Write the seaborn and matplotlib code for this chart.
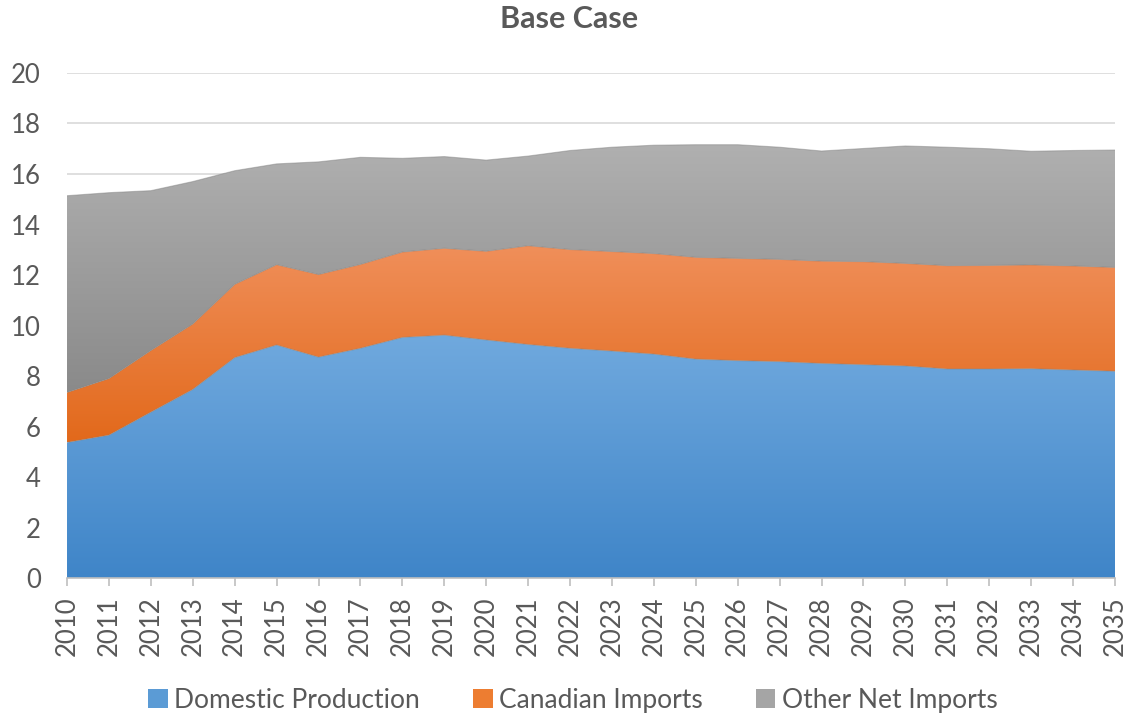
import numpy as np
import matplotlib
matplotlib.use("Agg")
import matplotlib.pyplot as plt
import seaborn as sns
from matplotlib.colors import LinearSegmentedColormap
from matplotlib.patches import Patch

# values
years = list(range(2010, 2036))
domestic = [5.37, 5.66, 6.57, 7.47, 8.73, 9.23, 8.75, 9.10, 9.53, 9.62,
            9.43, 9.25, 9.10, 8.99, 8.87, 8.67, 8.61, 8.57, 8.50, 8.45,
            8.40, 8.28, 8.28, 8.29, 8.24, 8.19]
canadian = [1.98, 2.24, 2.44, 2.59, 2.90, 3.18, 3.27, 3.32, 3.38, 3.44,
            3.51, 3.91, 3.91, 3.94, 3.98, 4.03, 4.05, 4.05, 4.05, 4.08,
            4.06, 4.09, 4.10, 4.11, 4.12, 4.11]
other = [7.79, 7.36, 6.33, 5.64, 4.50, 3.99, 4.46, 4.24, 3.71, 3.63,
         3.61, 3.55, 3.92, 4.13, 4.29, 4.46, 4.50, 4.44, 4.36, 4.48,
         4.65, 4.69, 4.62, 4.50, 4.57, 4.65]
labels = ["Domestic Production", "Canadian Imports", "Other Net Imports"]

# (top colour, bottom colour) for the Excel-like gradient fills
grads = [("#70a9de", "#3f85c8"), ("#f08f5a", "#e2691b"), ("#b0b0b0", "#8a8a8a")]
mids = ["#5b9bd5", "#ed7d31", "#a5a5a5"]

sns.set_theme(style="white")
plt.rcParams["font.family"] = ["Lato", "DejaVu Sans"]
txt = "#595959"

fig = plt.figure(figsize=(11.32, 7.19), dpi=100)
ax = fig.add_axes([0.0592, 0.196, 0.9258, 0.7025])

polys = ax.stackplot(years, domestic, canadian, other, colors=mids, linewidth=0)

# replace flat fills with vertical gradients clipped to each area
grad = np.linspace(1, 0, 256).reshape(-1, 1)
for poly, (top, bot) in zip(polys, grads):
    path = poly.get_paths()[0]
    ext = path.get_extents()
    cmap = LinearSegmentedColormap.from_list("g", [bot, top])
    im = ax.imshow(grad, cmap=cmap, aspect="auto", origin="upper",
                   extent=(ext.x0, ext.x1, ext.y0, ext.y1), zorder=2,
                   interpolation="bilinear")
    im.set_clip_path(path, ax.transData)
    poly.set_visible(False)

# faint boundary lines between the layers
cum = np.cumsum(np.array([domestic, canadian, other]), axis=0)
for row in cum:
    ax.plot(years, row, color="#7f7f7f", lw=0.8, alpha=0.45, zorder=3)

ax.set_xlim(2010, 2035)
ax.set_ylim(0, 20)
ax.set_yticks(range(0, 21, 2))
ax.set_xticks(years)
ax.set_xticklabels([str(y) for y in years], rotation=90)
ax.yaxis.grid(True, color="#d9d9d9", lw=1.2)
ax.set_axisbelow(True)
for s in ["top", "right", "left"]:
    ax.spines[s].set_visible(False)
ax.spines["bottom"].set_color("#bfbfbf")
ax.spines["bottom"].set_linewidth(1.2)
ax.spines["bottom"].set_zorder(4)
ax.tick_params(axis="x", direction="out", length=6, width=1.2, color="#bfbfbf",
               labelsize=18.5, labelcolor=txt, pad=7, bottom=True)
ax.tick_params(axis="y", length=0, labelsize=18.5, labelcolor=txt, pad=19)

fig.text(0.503, 0.974, "Base Case", ha="center", va="center",
         fontsize=22, fontweight="bold", color=txt)

handles = [Patch(facecolor=c, edgecolor="none") for c in mids]
fig.legend(handles, labels, loc="center", bbox_to_anchor=(0.506, 0.026), ncol=3,
           frameon=False, fontsize=19, labelcolor=txt, handlelength=0.75,
           handleheight=0.75, handletextpad=0.25, columnspacing=2.0)

fig.savefig("out.png", dpi=100)
